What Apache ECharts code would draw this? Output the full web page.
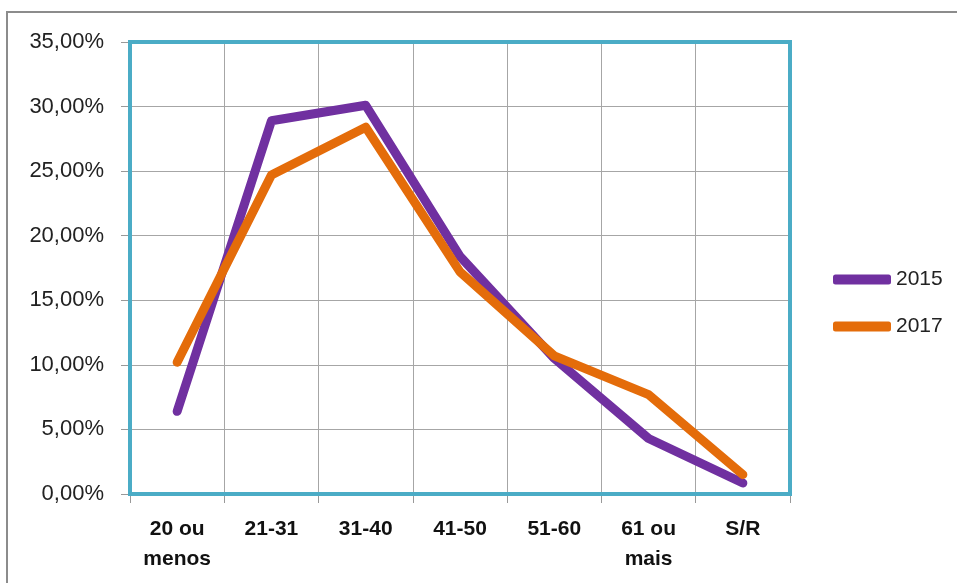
<!DOCTYPE html>
<html>
<head>
<meta charset="utf-8">
<script src="https://cdn.jsdelivr.net/npm/echarts@6/dist/echarts.min.js"></script>
<style>html,body{margin:0;padding:0;background:#fff}#c{width:957px;height:583px}</style>
</head>
<body>
<div id="c"></div>
<script>
const categories = ['20 ou\nmenos', '21-31', '31-40', '41-50', '51-60', '61 ou\nmais', 'S/R'];
const series2015 = [6.4, 28.9, 30.1, 18.4, 10.5, 4.3, 0.85];
const series2017 = [10.2, 24.7, 28.4, 17.2, 10.7, 7.7, 1.5];
const seriesNames = ['2015', '2017'];
const yTicks = {min: 0, max: 35, interval: 5};

const chart = echarts.init(document.getElementById('c'), null, {renderer: 'canvas'});
chart.setOption({
  animation: false,
  backgroundColor: '#fff',
  graphic: [{
    type: 'rect', shape: {x: 7, y: 12, width: 1000, height: 700},
    style: {fill: 'none', stroke: '#8c8c8c', lineWidth: 2}, z: -1
  }],
  grid: {
    left: 130, right: 167, top: 42, bottom: 89,
    show: true, borderColor: '#4BACC6', borderWidth: 4, backgroundColor: 'transparent', z: 10
  },
  legend: {
    orient: 'vertical', left: 828, top: 264, itemGap: 26,
    itemWidth: 58, itemHeight: 10, icon: 'roundRect',
    textStyle: {fontFamily: 'Liberation Sans', fontSize: 21, color: '#222'},
    data: seriesNames
  },
  xAxis: {
    type: 'category', data: categories, boundaryGap: true,
    axisLine: {show: false},
    axisTick: {show: true, length: 9, lineStyle: {color: '#999'}},
    splitLine: {show: true, lineStyle: {color: '#a6a6a6', width: 1}},
    axisLabel: {
      margin: 20, fontFamily: 'Liberation Sans', fontWeight: 'bold', fontSize: 21,
      lineHeight: 30, color: '#111', interval: 0
    }
  },
  yAxis: {
    type: 'value', min: yTicks.min, max: yTicks.max, interval: yTicks.interval,
    axisLine: {show: false},
    axisTick: {show: true, length: 9, lineStyle: {color: '#999'}},
    splitLine: {show: true, lineStyle: {color: '#a6a6a6', width: 1}},
    axisLabel: {
      margin: 26, fontFamily: 'Liberation Sans', fontSize: 22, color: '#222',
      formatter: v => v.toFixed(2).replace('.', ',') + '%'
    }
  },
  series: [
    {name: seriesNames[0], type: 'line', data: series2015, symbol: 'none', color: '#7030A0',
     lineStyle: {width: 9, color: '#7030A0', cap: 'round', join: 'round'}, z: 3},
    {name: seriesNames[1], type: 'line', data: series2017, symbol: 'none', color: '#E46C0A',
     lineStyle: {width: 9, color: '#E46C0A', cap: 'round', join: 'round'}, z: 4}
  ]
});
</script>
</body>
</html>
